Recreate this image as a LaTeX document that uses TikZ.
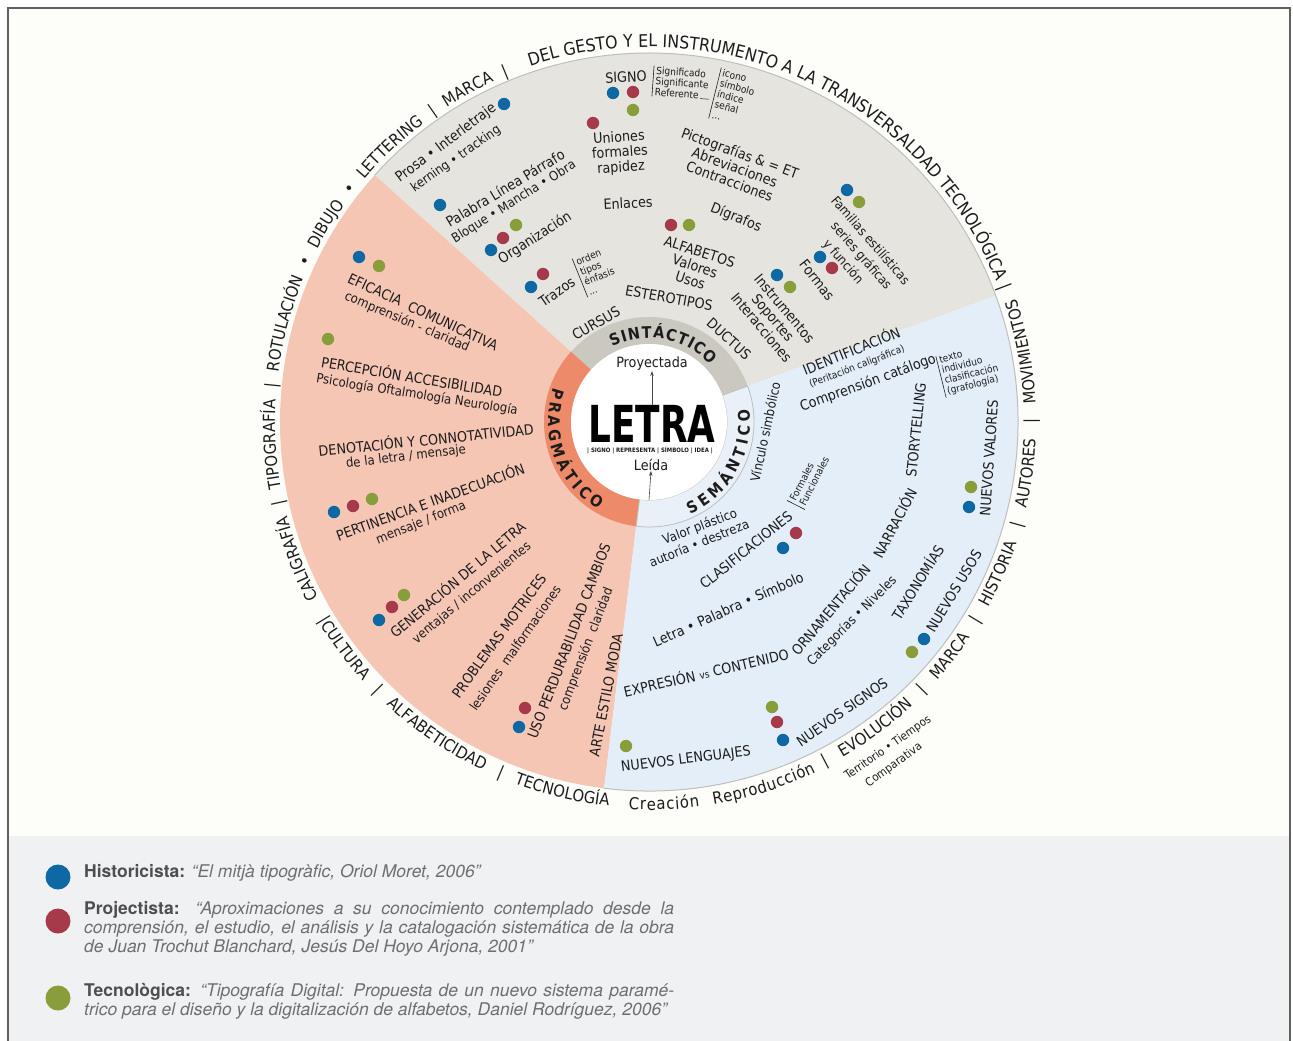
\documentclass[tikz,border=0pt]{standalone}
\usepackage{fontspec}
\setmainfont{TeX Gyre Heros}
\newfontfamily\wheelfont{DejaVu Sans}[FakeStretch=0.9]
\usetikzlibrary{decorations.text, arrows.meta}
\definecolor{paper}{RGB}{253,253,249}
\definecolor{legendbg}{RGB}{240,241,243}
\definecolor{framegrey}{RGB}{96,96,96}
\definecolor{sintgrey}{RGB}{229,228,222}
\definecolor{sintband}{RGB}{203,200,192}
\definecolor{pragpink}{RGB}{246,198,181}
\definecolor{pragband}{RGB}{237,138,106}
\definecolor{semblue}{RGB}{228,238,248}
\definecolor{semband}{RGB}{233,240,248}
\definecolor{rimgrey}{RGB}{190,190,188}
\definecolor{ink}{RGB}{28,28,28}
\definecolor{histblue}{RGB}{14,104,163}
\definecolor{projred}{RGB}{166,58,74}
\definecolor{tecgreen}{RGB}{137,157,58}
\definecolor{legendkey}{RGB}{78,78,80}
\definecolor{legendquote}{RGB}{110,110,112}
\newcommand\ringfont{\wheelfont\fontsize{16.5}{16.5}\selectfont}
\newcommand\ringtop{\wheelfont\fontsize{17.5}{17.5}\selectfont}
\newcommand\bandfont{\wheelfont\bfseries\fontsize{16}{16}\selectfont}
\newcommand\legkey[1]{{\color{legendkey}\bfseries #1}}
\newcommand\legquote[1]{{\color{legendquote}\itshape #1}}
\newcommand\legline[1]{\makebox[590pt][s]{#1}}
\begin{document}
\begin{tikzpicture}[x=1pt, y=-1pt,
  lbl/.style={font=\wheelfont\fontsize{14.2}{15}\selectfont, text=ink, inner sep=0pt},
  sublbl/.style={font=\wheelfont\fontsize{13}{14.5}\selectfont, text=ink, inner sep=0pt},
  smalllbl/.style={font=\wheelfont\fontsize{11.5}{12.5}\selectfont, text=ink, inner sep=0pt},
  tinylbl/.style={font=\wheelfont\fontsize{10}{10.8}\selectfont, text=ink, inner sep=0pt, align=left},
  barred/.style={inner xsep=2.5pt, inner ysep=0.5pt, anchor=west},
  barline/.style={draw=ink, line width=0.6pt},
  ringtext/.style={decorate, decoration={text along path, text format delimiters={[}{]}, text color=ink, text align={fit to path stretching spaces}, text={#1}}},
  wordtext/.style={decorate, decoration={text along path, text format delimiters={[}{]}, text color=ink, text align={fit to path}, text={#1}}},
  core/.style={circle, fill=white, minimum size=156pt, inner sep=0pt},
  pointer/.style={-{Stealth[length=5pt, width=3.5pt]}, draw=ink!80, line width=0.6pt},
  legendtxt/.style={font=\fontsize{17.5}{19}\selectfont, inner sep=0pt, align=left, anchor=north west}]
% hoja y marco
\useasboundingbox (0,0) rectangle (1293,1041);
\fill[paper] (8,8) rectangle (1290,1041);
\fill[legendbg] (8,836) rectangle (1290,1041);
\draw[framegrey, line width=1.3pt] (8,1041) -- (8,8) -- (1290,8) -- (1290,1041);

% rueda: sectores, anillo y textos curvos
\begin{scope}[shift={(649,422)}, x=1pt, y=1pt]
  \fill[sintgrey] (0,0) -- (20:369) arc[start angle=20, end angle=138, radius=369] -- cycle;
  \fill[pragpink] (0,0) -- (138:369) arc[start angle=138, end angle=263, radius=369] -- cycle;
  \fill[semblue] (0,0) -- (263:369) arc[start angle=263, end angle=380, radius=369] -- cycle;
  \draw[rimgrey, line width=1pt] (263:369) arc[start angle=263, end angle=498, radius=369];
  \fill[sintband] (20:105) arc[start angle=20, end angle=138, radius=105] -- (138:78) arc[start angle=138, end angle=20, radius=78] -- cycle;
  \fill[pragband] (138:105) arc[start angle=138, end angle=263, radius=105] -- (263:78) arc[start angle=263, end angle=138, radius=78] -- cycle;
  \filldraw[fill=semband, draw=rimgrey, line width=0.8pt] (263:105) arc[start angle=263, end angle=380, radius=105] -- (380:78) arc[start angle=380, end angle=263, radius=78] -- cycle;
  % nombres del anillo
  \path[wordtext={[\bandfont]SINTÁCTICO}] (116:84) arc[start angle=116, end angle=43, radius=84];
  \path[wordtext={[\bandfont]PRAGMÁTICO}] (160:101) arc[start angle=160, end angle=240, radius=101];
  \path[wordtext={[\bandfont]SEMÁNTICO}] (294:101) arc[start angle=294, end angle=367, radius=101];
  % texto exterior
  \path[ringtext={[\ringfont]CALIGRAFÍA | TIPOGRAFÍA | ROTULACIÓN • DIBUJO • LETTERING | MARCA |}] (208:374) arc[start angle=208, end angle=112, radius=374];
  \path[ringtext={[\ringtop]DEL GESTO Y EL INSTRUMENTO A LA TRANSVERSALDAD TECNOLÓGICA |}] (108.5:375) arc[start angle=108.5, end angle=20.5, radius=375];
  \path[ringtext={[\ringfont]|CULTURA | ALFABETICIDAD | TECNOLOGÍA}] (211:386) arc[start angle=211, end angle=264, radius=386];
  \path[wordtext={[\ringfont]Creación}] (267:388) arc[start angle=267, end angle=277.5, radius=388];
  \path[wordtext={[\ringfont]Reproducción}] (279.6:388) arc[start angle=279.6, end angle=295.5, radius=388];
  \path[ringtext={[\ringfont]| EVOLUCIÓN | MARCA | HISTORIA | AUTORES | MOVIMIENTOS}] (297:387) arc[start angle=297, end angle=378.5, radius=387];
\end{scope}

% centro
\node[core] (core) at (649,422) {};
\node[font=\wheelfont\bfseries\fontsize{51}{51}\selectfont, text=black, inner sep=0pt, xscale=0.78] (letra) at (652,424) {LETRA};
\node[font=\wheelfont\bfseries\fontsize{6}{6}\selectfont, text=ink, inner sep=0pt] (letrasub) at (650,450) {| SIGNO | REPRESENTA | SÍMBOLO | IDEA |};
\node[lbl] (proy) at (652,364) {Proyectada};
\node[lbl] (leida) at (651,465) {Leída};
\draw[pointer] (letra.north) -- (proy.south);
\draw[pointer] (core.south) -- (leida.south);

% sintactico
\node[lbl, rotate=3] (signo) at (626,77) {SIGNO};
\node[tinylbl, barred, rotate=-4] (signotri) at (653,81) {Significado\\Significante\\Referente\,\rule{9pt}{0.5pt}};
\node[tinylbl, barred, rotate=-14] (signoclase) at (715,93) {icono\\símbolo\\índice\\señal\\...};
\draw[barline] (signotri.north west) -- (signotri.south west);
\draw[barline] (signoclase.north west) -- (signoclase.south west);
\node[lbl, rotate=4, align=center] (uniones) at (620,153) {Uniones\\formales\\rapidez};
\node[lbl, rotate=-20, align=center] (pictografias) at (735,167) {Pictografías \& = ET\\Abreviaciones\\Contracciones};
\node[lbl, rotate=3] (enlaces) at (628,203) {Enlaces};
\node[lbl, rotate=-22] (digrafos) at (736,218) {Dígrafos};
\node[lbl, rotate=-18, align=center] (alfabetos) at (695,266) {ALFABETOS\\Valores\\Usos};
\node[lbl, rotate=-10] (esterotipos) at (669,298) {ESTEROTIPOS};
\node[lbl, rotate=30] (cursus) at (596,323) {CURSUS};
\node[lbl, rotate=-42] (ductus) at (729,339) {DUCTUS};
\node[lbl, rotate=35] (trazos) at (557,292) {Trazos};
\node[tinylbl, barred, rotate=22] (trazosclase) at (580,278) {orden\\tipos\\énfasis\\...};
\draw[barline] (trazosclase.north west) -- (trazosclase.south west);
\node[lbl, rotate=33] (organizacion) at (535,238) {Organización};
\node[lbl, rotate=31] (palabra) at (505,188) {Palabra Línea Párrafo};
\node[sublbl, rotate=32] (bloque) at (514,202) {Bloque • Mancha • Obra};
\node[lbl, rotate=37] (prosa) at (446,143) {Prosa • Interletraje};
\node[sublbl, rotate=35] (kerning) at (456,159) {kerning • tracking};
\node[sublbl, rotate=-49] (familias) at (871,240) {Familias estilísticas};
\node[sublbl, rotate=-49] (series) at (861,256) {series gráficas};
\node[sublbl, rotate=-49] (funcion) at (843,262) {y función};
\node[lbl, rotate=-52] (formas) at (817,280) {Formas};
\node[lbl, rotate=-50, align=center] (instrumentos) at (773,318) {Instrumentos\\Soportes\\Interacciones};

% pragmatico
\node[lbl, rotate=-25] (eficacia) at (423,312) {EFICACIA\ \ COMUNICATIVA};
\node[sublbl, rotate=-23] (eficaciasub) at (407,322) {comprensión - claridad};
\node[lbl, rotate=-9.5] (percepcion) at (412,376) {PERCEPCIÓN ACCESIBILIDAD};
\node[sublbl, rotate=-9] (percepcionsub) at (417,395) {Psicología Oftalmología Neurología};
\node[lbl, rotate=6] (denotacion) at (426,439) {DENOTACIÓN Y CONNOTATIVIDAD};
\node[sublbl, rotate=7] (denotacionsub) at (406,457) {de la letra / mensaje};
\node[lbl, rotate=20] (pertinencia) at (430,501) {PERTINENCIA E INADECUACIÓN};
\node[sublbl, rotate=22] (pertinenciasub) at (421,523) {mensaje / forma};
\node[lbl, rotate=40] (generacion) at (457,579) {GENERACIÓN DE LA LETRA};
\node[sublbl, rotate=40] (generacionsub) at (472,593) {ventajas / inconvenientes};
\node[lbl, rotate=54] (problemas) at (499,636) {PROBLEMAS MOTRICES};
\node[sublbl, rotate=55] (problemassub) at (515,648) {lesiones\ \ malformaciones};
\node[lbl, rotate=69] (uso) at (569,641) {USO PERDURABILIDAD CAMBIOS};
\node[sublbl, rotate=69] (usosub) at (586,649) {comprensión\ \ claridad};
\node[lbl, rotate=79] (arte) at (606,695) {ARTE ESTILO MODA};

% semantico
\node[sublbl, rotate=21] (valor) at (700,527) {Valor plástico};
\node[sublbl, rotate=22] (autoria) at (699,543) {autoría • destreza};
\node[sublbl, rotate=78] (vinculo) at (765,432) {Vínculo simbólico};
\node[lbl, rotate=39] (clasificaciones) at (746,550) {CLASIFICACIONES};
\node[tinylbl, barred, rotate=63] (clasestipos) at (796,505) {Formales\\Funcionales};
\draw[barline] (clasestipos.north west) -- (clasestipos.south west);
\node[lbl, rotate=24] (letrapalabra) at (728,609) {Letra • Palabra • Símbolo};
\node[lbl, rotate=13] (expresion) at (706,672) {EXPRESIÓN {\fontsize{10}{10}\selectfont vs} CONTENIDO};
\node[lbl, rotate=7] (lenguajes) at (686,760) {NUEVOS LENGUAJES};
\node[lbl, rotate=35] (signos) at (842,712) {NUEVOS SIGNOS};
\node[lbl, rotate=22] (identificacion) at (851,350) {IDENTIFICACIÓN};
\node[tinylbl, rotate=21] (peritacion) at (857,367) {(Peritación caligráfica)};
\node[lbl, rotate=20] (comprension) at (868,383) {Comprensión catálogo};
\node[tinylbl, barred, rotate=14] (grafologia) at (941,377) {texto\\individuo\\clasificación\\(grafología)};
\draw[barline] (grafologia.north west) -- (grafologia.south west);
\node[lbl, rotate=50] (ornamentacion) at (830,609) {ORNAMENTACIÓN};
\node[lbl, rotate=62] (narracion) at (894,523) {NARRACIÓN};
\node[lbl, rotate=84] (storytelling) at (916,430) {STORYTELLING};
\node[sublbl, rotate=45] (categorias) at (852,621) {Categorías • Niveles};
\node[lbl, rotate=58] (taxonomias) at (917,582) {TAXONOMÍAS};
\node[lbl, rotate=59] (nuevosusos) at (954,591) {NUEVOS USOS};
\node[lbl, rotate=86] (nuevosvalores) at (989,458) {NUEVOS VALORES};
\node[smalllbl, rotate=35] (territorio) at (888,748) {Territorio • Tiempos};
\node[smalllbl, rotate=36] (comparativa) at (894,765) {Comparativa};

% puntos de las tres lecturas
\foreach \px/\py in {504/104, 440/205, 491/250, 531/287, 613/93, 847/190, 820/257, 777/275, 359/257, 334/512, 379/620, 519/727, 783/548, 783/740, 924/639, 969/507}
  \fill[histblue] (\px,\py) circle[radius=6.2];
\foreach \px/\py in {633/92, 593/123, 503/238, 543/274, 671/225, 832/268, 353/506, 392/607, 525/708, 796/533, 777/722}
  \fill[projred] (\px,\py) circle[radius=6.2];
\foreach \px/\py in {633/110, 516/225, 689/225, 859/202, 790/287, 379/266, 328/339, 372/499, 404/595, 626/746, 772/707, 912/652, 971/487}
  \fill[tecgreen] (\px,\py) circle[radius=6.2];

% leyenda
\fill[histblue] (58,877) circle[radius=12.5];
\fill[projred] (58,921) circle[radius=12.5];
\fill[tecgreen] (58,998) circle[radius=12.5];
\node[legendtxt] (leghist) at (84,864) {\legkey{Historicista:} \legquote{“El mitjà tipogràfic, Oriol Moret, 2006”}};
\node[legendtxt] (legproj) at (84,901) {\legline{\legkey{Projectista:} \legquote{“Aproximaciones a su conocimiento contemplado desde la}}\\
  \legline{\legquote{comprensión, el estudio, el análisis y la catalogación sistemática de la obra}}\\
  \legquote{de Juan Trochut Blanchard, Jesús Del Hoyo Arjona, 2001”}};
\node[legendtxt] (legtec) at (84,983) {\legline{\legkey{Tecnològica:} \legquote{“Tipografía Digital: Propuesta de un nuevo sistema paramé-}}\\
  \legquote{trico para el diseño y la digitalización de alfabetos, Daniel Rodríguez, 2006”}};
\end{tikzpicture}
\end{document}
